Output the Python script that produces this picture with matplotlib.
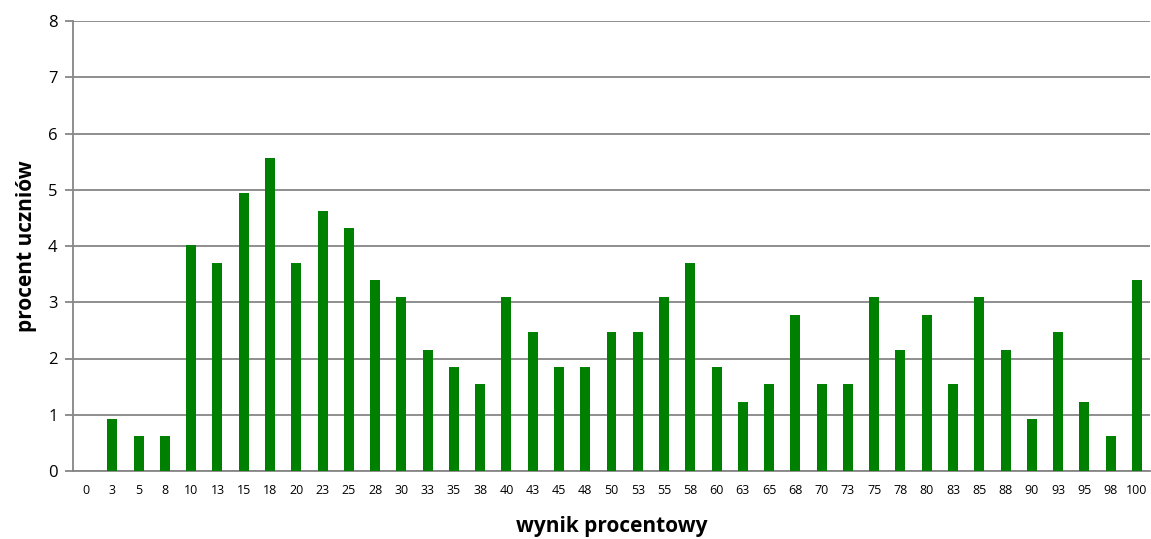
import matplotlib
matplotlib.use("Agg")
import matplotlib.pyplot as plt

# score bins (percent result) and share of students in each bin
wyniki = ["0", "3", "5", "8", "10", "13", "15", "18", "20", "23", "25", "28",
          "30", "33", "35", "38", "40", "43", "45", "48", "50", "53", "55",
          "58", "60", "63", "65", "68", "70", "73", "75", "78", "80", "83",
          "85", "88", "90", "93", "95", "98", "100"]
procent = [0.0, 0.93, 0.62, 0.62, 4.01, 3.70, 4.94, 5.56, 3.70, 4.63, 4.32,
           3.40, 3.09, 2.16, 1.85, 1.54, 3.09, 2.47, 1.85, 1.85, 2.47, 2.47,
           3.09, 3.70, 1.85, 1.23, 1.54, 2.78, 1.54, 1.54, 3.09, 2.16, 2.78,
           1.54, 3.09, 2.16, 0.93, 2.47, 1.23, 0.62, 3.40]
y_ticks = list(range(0, 9))

plt.rcParams["font.family"] = ["Open Sans", "DejaVu Sans"]

fig = plt.figure(figsize=(11.51, 5.39), dpi=100)
ax = fig.add_axes([73 / 1151, 68 / 539, 1077 / 1151, 450 / 539])

x = list(range(len(wyniki)))
ax.bar(x, procent, width=0.38, color="#008000", zorder=3)

ax.set_xlim(-0.5, len(wyniki) - 0.5)
ax.set_ylim(0, 8)
ax.set_yticks(y_ticks)
ax.set_xticks(x)
ax.set_xticklabels(wyniki, fontsize=9)
ax.tick_params(axis="x", length=0, pad=9)
ax.tick_params(axis="y", length=6, width=1.3, color="#868686",
               labelsize=12, pad=5)

ax.grid(axis="y", color="#868686", lw=1.3, zorder=0)
for s in ("top", "right"):
    ax.spines[s].set_visible(False)
ax.spines["left"].set_color("#868686")
ax.spines["left"].set_linewidth(1.3)
ax.spines["bottom"].set_color("#868686")
ax.spines["bottom"].set_linewidth(1.3)

ax.set_xlabel("wynik procentowy", fontsize=15, fontweight="bold", labelpad=14)
ax.set_ylabel("procent uczniów", fontsize=15, fontweight="bold", labelpad=8)

fig.savefig("out.png", dpi=100)
